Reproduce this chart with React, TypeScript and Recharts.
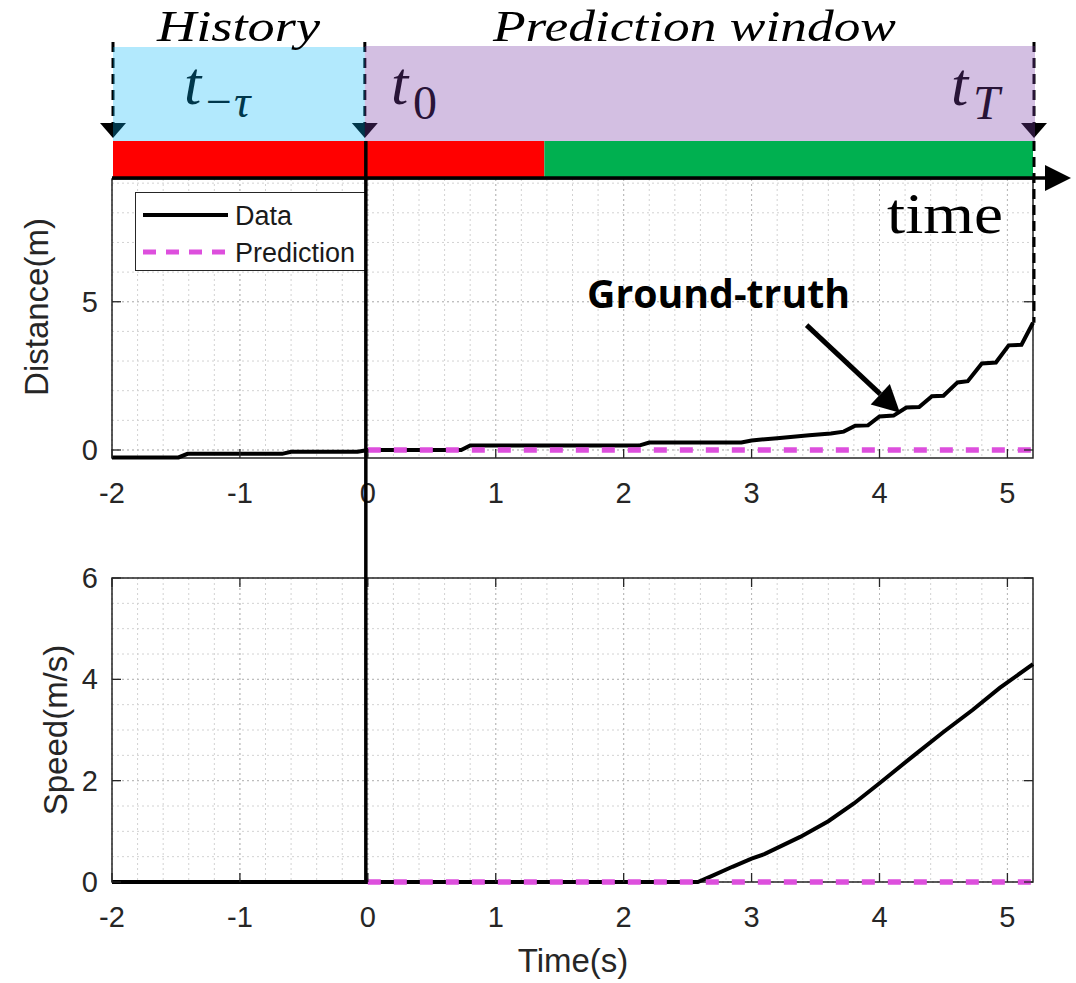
import React from "react";
import { LineChart, Line, XAxis, YAxis, CartesianGrid, ReferenceArea, Legend } from "recharts";

// ticks
const timeTicks = [-2, -1, 0, 1, 2, 3, 4, 5];
const distTicks = [0, 5];
const speedTicks = [0, 2, 4, 6];

// measured distance (m), stair-stepped
const distTime = [-2, -1.48, -1.41, -0.67, -0.6, -0.08, 0, 0.73, 0.8, 2.12, 2.2, 2.92, 3.0, 3.2, 3.45, 3.62, 3.72, 3.81, 3.91, 4.0, 4.11, 4.21, 4.31, 4.41, 4.5, 4.61, 4.69, 4.8, 4.91, 5.01, 5.11, 5.2];
const distValue = [-0.25, -0.25, -0.13, -0.13, -0.06, -0.06, 0, 0, 0.15, 0.15, 0.25, 0.25, 0.32, 0.4, 0.5, 0.56, 0.62, 0.82, 0.83, 1.13, 1.16, 1.43, 1.45, 1.81, 1.83, 2.28, 2.32, 2.92, 2.95, 3.53, 3.55, 4.29];

// measured speed (m/s)
const speedTime = [-2, 0, 2.58, 2.7, 2.85, 3.0, 3.1, 3.38, 3.6, 3.8, 4.0, 4.26, 4.5, 4.73, 4.94, 5.2];
const speedValue = [0, 0, 0, 0.13, 0.3, 0.46, 0.55, 0.89, 1.2, 1.55, 1.95, 2.48, 2.96, 3.4, 3.83, 4.3];

// prediction (flat zero over the window)
const predTime = [0, 5.2];
const predValue = [0, 0];

// phases on the time line
const historyStart = -2;
const predStart = 0;
const greenStart = 1.38;
const horizon = 5.2;

// where the "Ground-truth" arrow points (time, distance)
const gtTail = [3.43, 4.21];
const gtTip = [4.16, 1.26];

const zip = (ts: number[], vs: number[]) => ts.map((t, i) => ({ t, v: vs[i] }));
const distData = zip(distTime, distValue);
const speedData = zip(speedTime, speedValue);
const predData = zip(predTime, predValue);

// grid values
const stepVals = (a: number, b: number, s: number) =>
  Array.from({ length: Math.round((b - a) / s) + 1 }, (_, i) => Math.round((a + i * s) * 100) / 100);
const minorX = stepVals(-2, 5.2, 0.2);
const distGrid = stepVals(0, 9, 1);
const speedGrid = stepVals(0, 6, 0.5);

// layout
const W = 1076;
const PL = 112;
const PR = 1033;
const TOP_H = 520;
const TOP_Y0 = 179;
const TOP_Y1 = 458;
const BOT_TOP = 520;
const BOT_H = 463;
const BOT_Y0 = 578;
const BOT_Y1 = 882;
const X_DOM: [number, number] = [-2, 5.2];
const D_DOM: [number, number] = [-0.27, 9.14];
const S_DOM: [number, number] = [0, 6];

const AX = "#262626";
const SANS = "'Liberation Sans', Arial, Helvetica, sans-serif";
const SERIF = "'Liberation Serif', 'Times New Roman', serif";
const PINK = "#DD4FDD";

const px = (t: number) => PL + ((t - X_DOM[0]) / (X_DOM[1] - X_DOM[0])) * (PR - PL);
const pyDist = (v: number) => TOP_Y1 - ((v - D_DOM[0]) / (D_DOM[1] - D_DOM[0])) * (TOP_Y1 - TOP_Y0);

const xTick = (plotH: number, showTop: boolean) => (p: any) => {
  const { x, y, payload } = p;
  return (
    <g>
      <line x1={x} y1={y} x2={x} y2={y - 9} stroke={AX} strokeWidth={1.3} />
      {showTop && <line x1={x} y1={y - plotH} x2={x} y2={y - plotH + 9} stroke={AX} strokeWidth={1.3} />}
      <text x={x} y={y + 35} textAnchor="middle" dominantBaseline="central" fontFamily={SANS} fontSize={29} fill={AX}>
        {payload.value}
      </text>
    </g>
  );
};

const yTick = (plotW: number) => (p: any) => {
  const { x, y, payload } = p;
  return (
    <g>
      <line x1={x} y1={y} x2={x + 9} y2={y} stroke={AX} strokeWidth={1.3} />
      <line x1={x + plotW} y1={y} x2={x + plotW - 9} y2={y} stroke={AX} strokeWidth={1.3} />
      <text x={x - 14} y={y} textAnchor="end" dominantBaseline="central" fontFamily={SANS} fontSize={29} fill={AX}>
        {payload.value}
      </text>
    </g>
  );
};

const renderLegend = (props: any) => {
  const items = props.payload || [];
  return (
    <div style={{ width: 232, height: 79, boxSizing: "border-box", border: `1.5px solid ${AX}`, background: "#fff" }}>
      <svg width={229} height={76}>
        {items.map((it: any, i: number) => {
          const cy = 22 + i * 37;
          const dashed = it.value === "Prediction";
          return (
            <g key={it.value}>
              <line x1={7} x2={92} y1={cy} y2={cy} stroke={it.color} strokeWidth={dashed ? 5 : 4} strokeDasharray={dashed ? "13 10" : undefined} />
              <text x={99} y={cy + 1} dominantBaseline="central" fontFamily={SANS} fontSize={27} fill="#1a1a1a">
                {it.value}
              </text>
            </g>
          );
        })}
      </svg>
    </div>
  );
};

const arrowHead = (tx: number, ty: number, fx: number, fy: number, len: number, half: number) => {
  const dx = tx - fx;
  const dy = ty - fy;
  const n = Math.hypot(dx, dy);
  const ux = dx / n;
  const uy = dy / n;
  const bx = tx - ux * len;
  const by = ty - uy * len;
  return {
    base: [bx, by],
    pts: `${tx},${ty} ${bx - uy * half},${by + ux * half} ${bx + uy * half},${by - ux * half}`,
  };
};

function Overlay() {
  const x0 = px(historyStart) + 1;
  const x1 = px(predStart) - 3;
  const xg = px(greenStart);
  const xT = px(horizon) + 1;
  const hTop = 47;
  const band = 141;
  const axisY = 178;
  const tipY = 138;
  const endY = pyDist(distValue[distValue.length - 1]);
  const gtFrom = [px(gtTail[0]), pyDist(gtTail[1])];
  const gtTo = [px(gtTip[0]), pyDist(gtTip[1])];
  const gtHead = arrowHead(gtTo[0], gtTo[1], gtFrom[0], gtFrom[1], 27, 14);
  const downArrow = (x: number) => `${x - 13},${tipY - 15} ${x + 13},${tipY - 15} ${x},${tipY}`;
  return (
    <svg width={W} height={983} style={{ position: "absolute", left: 0, top: 0, pointerEvents: "none" }}>
      {/* dashed markers and symbols under the tinted boxes */}
      {[x0, x1, xT].map((x) => (
        <g key={x}>
          <line x1={x} x2={x} y1={42} y2={tipY - 14} stroke="#000" strokeWidth={3} strokeDasharray="10 6" />
          <polygon points={downArrow(x)} fill="#000" />
        </g>
      ))}
      <text x={184} y={104} fontFamily={SERIF} fontStyle="italic" fontSize={62} fill="#000">t</text>
      <text x={203} y={117} fontFamily={SERIF} fontStyle="italic" fontSize={46} fill="#000">−τ</text>
      <text x={391} y={104} fontFamily={SERIF} fontStyle="italic" fontSize={62} fill="#000">t</text>
      <text x={413} y={119} fontFamily={SERIF} fontSize={48} fill="#000">0</text>
      <text x={951} y={105} fontFamily={SERIF} fontStyle="italic" fontSize={62} fill="#000">t</text>
      <text x={973} y={119} fontFamily={SERIF} fontStyle="italic" fontSize={48} fill="#000">T</text>
      <rect x={x0} y={hTop} width={x1 - x0} height={band - hTop} fill="#00B7FA" fillOpacity={0.3} />
      <rect x={x1} y={hTop - 1} width={xT + 1 - x1} height={band - hTop + 1} fill="#793CA7" fillOpacity={0.33} />
      <text x={157} y={41} fontFamily={SERIF} fontStyle="italic" fontSize={44} textLength={163} lengthAdjust="spacingAndGlyphs" fill="#000">History</text>
      <text x={493} y={41} fontFamily={SERIF} fontStyle="italic" fontSize={44} textLength={403} lengthAdjust="spacingAndGlyphs" fill="#000">Prediction window</text>
      {/* red / green phase band */}
      <rect x={x0} y={band} width={xg - x0} height={axisY - band} fill="#FF0000" />
      <rect x={xg} y={band} width={px(horizon) - xg} height={axisY - band} fill="#00B050" />
      {/* t0 line through both plots */}
      <line x1={x1 + 1} x2={x1 + 1} y1={band} y2={BOT_Y1} stroke="#000" strokeWidth={3.5} />
      {/* horizon dashed line down to the last sample */}
      <line x1={xT} x2={xT} y1={band} y2={endY} stroke="#000" strokeWidth={3} strokeDasharray="10 6" />
      {/* time arrow */}
      <line x1={PL} x2={1050} y1={axisY} y2={axisY} stroke="#000" strokeWidth={3.5} />
      <polygon points={`1045,${axisY - 13} 1071,${axisY} 1045,${axisY + 13}`} fill="#000" />
      <text x={887} y={233} fontFamily={SERIF} fontSize={58} textLength={116} lengthAdjust="spacingAndGlyphs" fill="#000">time</text>
      {/* ground-truth callout */}
      <text x={587} y={308} fontFamily="'Open Sans', 'Noto Sans', sans-serif" fontWeight={700} fontSize={40} textLength={263} lengthAdjust="spacingAndGlyphs" fill="#000">Ground-truth</text>
      <line x1={gtFrom[0]} y1={gtFrom[1]} x2={gtHead.base[0]} y2={gtHead.base[1]} stroke="#000" strokeWidth={5} />
      <polygon points={gtHead.pts} fill="#000" />
    </svg>
  );
}

export default function App() {
  const plotW = PR - PL;
  return (
    <div style={{ position: "absolute", left: 0, top: 0, width: W, height: 983, background: "#fff", overflow: "hidden" }}>
      <div style={{ position: "absolute", left: 0, top: 0 }}>
        <LineChart width={W} height={TOP_H} margin={{ top: TOP_Y0, right: W - PR, bottom: TOP_H - TOP_Y1 - 30, left: PL - 60 }}>
          <CartesianGrid verticalValues={minorX} horizontalValues={distGrid} stroke="#d2d2d2" strokeDasharray="2 3" />
          <CartesianGrid verticalValues={timeTicks} horizontalValues={distTicks} stroke="#b8b8b8" strokeDasharray="2 3" />
          <XAxis type="number" dataKey="t" domain={X_DOM} ticks={timeTicks} interval={0} height={30}
            axisLine={false} tickLine={false} tickSize={0} tickMargin={0} tick={xTick(TOP_Y1 - TOP_Y0, false)} />
          <YAxis type="number" domain={D_DOM} ticks={distTicks} interval={0} width={60}
            axisLine={false} tickLine={false} tickSize={0} tickMargin={0} tick={yTick(plotW)}
            label={() => (
              <text x={36} y={307} transform="rotate(-90 36 307)" textAnchor="middle" dominantBaseline="central" fontFamily={SANS} fontSize={33} fill={AX}>
                Distance(m)
              </text>
            )} />
          <ReferenceArea x1={X_DOM[0]} x2={X_DOM[1]} y1={D_DOM[0]} y2={D_DOM[1]} fill="none" stroke={AX} strokeWidth={1.5} />
          <Line data={distData} dataKey="v" name="Data" type="linear" stroke="#000" strokeWidth={4} dot={false} isAnimationActive={false} />
          <Line data={predData} dataKey="v" name="Prediction" type="linear" stroke={PINK} strokeWidth={5.5} strokeDasharray="13 13" dot={false} isAnimationActive={false} />
          <Legend layout="horizontal" verticalAlign="middle" align="center" content={renderLegend}
            wrapperStyle={{ left: 135, top: 192, width: 232, height: 79 }} />
        </LineChart>
      </div>
      <div style={{ position: "absolute", left: 0, top: BOT_TOP }}>
        <LineChart width={W} height={BOT_H} margin={{ top: BOT_Y0 - BOT_TOP, right: W - PR, bottom: BOT_TOP + BOT_H - BOT_Y1 - 30, left: PL - 60 }}>
          <CartesianGrid verticalValues={minorX} horizontalValues={speedGrid} stroke="#d2d2d2" strokeDasharray="2 3" />
          <CartesianGrid verticalValues={timeTicks} horizontalValues={speedTicks} stroke="#b8b8b8" strokeDasharray="2 3" />
          <XAxis type="number" dataKey="t" domain={X_DOM} ticks={timeTicks} interval={0} height={30}
            axisLine={false} tickLine={false} tickSize={0} tickMargin={0} tick={xTick(BOT_Y1 - BOT_Y0, true)}
            label={() => (
              <text x={573} y={440} textAnchor="middle" dominantBaseline="central" fontFamily={SANS} fontSize={33} fill={AX}>
                Time(s)
              </text>
            )} />
          <YAxis type="number" domain={S_DOM} ticks={speedTicks} interval={0} width={60}
            axisLine={false} tickLine={false} tickSize={0} tickMargin={0} tick={yTick(plotW)}
            label={() => (
              <text x={55} y={210} transform="rotate(-90 55 210)" textAnchor="middle" dominantBaseline="central" fontFamily={SANS} fontSize={33} fill={AX}>
                Speed(m/s)
              </text>
            )} />
          <ReferenceArea x1={X_DOM[0]} x2={X_DOM[1]} y1={S_DOM[0]} y2={S_DOM[1]} fill="none" stroke={AX} strokeWidth={1.5} />
          <Line data={speedData} dataKey="v" name="Data" type="linear" stroke="#000" strokeWidth={4} dot={false} isAnimationActive={false} />
          <Line data={predData} dataKey="v" name="Prediction" type="linear" stroke={PINK} strokeWidth={5.5} strokeDasharray="13 13" dot={false} isAnimationActive={false} />
        </LineChart>
      </div>
      <Overlay />
    </div>
  );
}
